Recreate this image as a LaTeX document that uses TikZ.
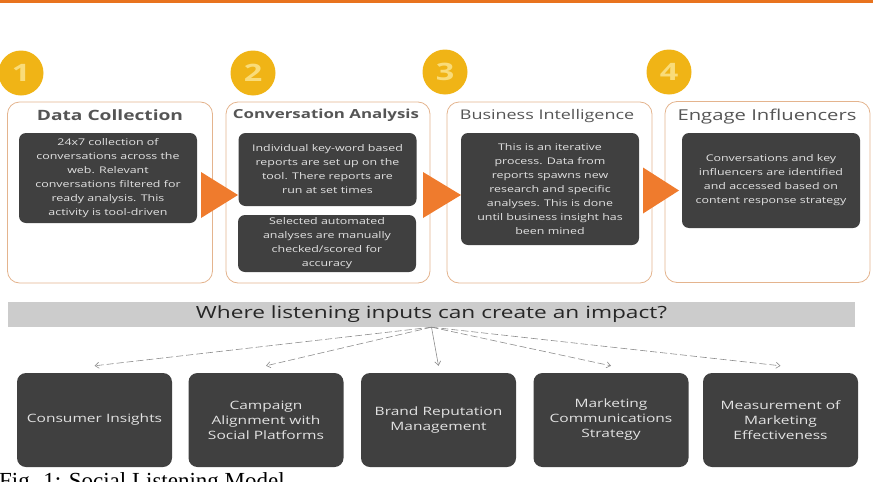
\documentclass[tikz,border=0pt]{standalone}
\usepackage{fontspec}
\setmainfont[FakeStretch=1.35]{Open Sans}
\newfontfamily\capfont{Liberation Serif}
\usetikzlibrary{arrows.meta,positioning}
\definecolor{topline}{HTML}{E8731E}
\definecolor{stepgold}{HTML}{F0B416}
\definecolor{stepnum}{HTML}{F9DC7A}
\definecolor{panelline}{HTML}{E4B48E}
\definecolor{darkbox}{HTML}{404040}
\definecolor{lighttext}{HTML}{E2E2E2}
\definecolor{bartone}{HTML}{CCCCCC}
\definecolor{chevron}{HTML}{EF7B2D}
\definecolor{titlegrey}{HTML}{555555}
\definecolor{linkgrey}{HTML}{8C8C8C}
\tikzset{
  panel/.style={draw=panelline, line width=0.8pt, fill=white, rounded corners=12pt,
                minimum width=205pt, minimum height=181pt},
  heading/.style={text=titlegrey, inner sep=0pt},
  darkcard/.style={fill=darkbox, rounded corners=7pt, text=lighttext, align=center,
                   inner sep=0pt, minimum width=178pt, font=\fontsize{9.2}{14}\selectfont},
  impact/.style={fill=darkbox, rounded corners=9pt, text=lighttext, align=center,
                 inner sep=0pt, minimum width=155pt, minimum height=94pt,
                 font=\fontsize{11.5}{15}\selectfont},
  link/.style={linkgrey, line width=0.6pt, -{Straight Barb[length=4pt,width=6pt]}},
}

\begin{document}
\begin{tikzpicture}[x=1pt, y=-1pt]
  \useasboundingbox (0,0) rectangle (873,482);
  \fill[topline] (0,0) rectangle (873,3);
  \foreach \i/\cx/\cy in {1/21/73, 2/253/73, 3/445/72, 4/669/72}
    \node[circle, fill=stepgold, minimum size=45pt, inner sep=0pt, text=stepnum,
          font=\fontsize{24}{24}\selectfont\bfseries] (n\i) at (\cx,\cy) {\i};
  \node[panel] (p1) at (110,192.5) {};
  \node[panel, minimum width=204pt] (p2) at (328,192.5) {};
  \node[panel] (p3) at (549.5,192.5) {};
  \node[panel] (p4) at (767.5,192) {};
  \node[heading, font=\fontsize{14.2}{15}\selectfont\bfseries] (t1) at (110,115) {Data Collection};
  \node[heading, font=\fontsize{12.5}{12}\selectfont\bfseries] (t2) at (326,115) {Conversation Analysis};
  \node[heading, font=\fontsize{13.3}{12}\selectfont] (t3) at (547,116) {Business Intelligence};
  \node[heading, font=\fontsize{15}{15}\selectfont] (t4) at (767,117) {Engage Influencers};
  \node[darkcard, minimum height=90pt] (c1) at (108,178) {24x7 collection of\\conversations across the\\web. Relevant\\conversations filtered for\\ready analysis. This\\activity is tool-driven};
  \node[darkcard, minimum height=73pt] (c2a) at (327.5,169.5) {Individual key-word based\\reports are set up on the\\tool. There reports are\\run at set times};
  \node[darkcard, minimum height=57pt] (c2b) at (327,243.5) {Selected automated\\analyses are manually\\checked/scored for\\accuracy};
  \node[darkcard, minimum height=112pt] (c3) at (550,189) {This is an iterative\\process. Data from\\reports spawns new\\research and specific\\analyses. This is done\\until business insight has\\been mined};
  \node[darkcard, minimum height=95pt] (c4) at (771,180.5) {Conversations and key\\influencers are identified\\and accessed based on\\content response strategy};
  \foreach \bx/\tx/\cy in {201/238/195, 423/461/195, 643/679/190.5}
    \fill[chevron] (\bx,\cy-23) -- (\tx,\cy) -- (\bx,\cy+23) -- cycle;
  \node[fill=bartone, minimum width=847pt, minimum height=25pt, inner sep=0pt,
        font=\fontsize{16.8}{16}\selectfont, text=black!85] (bar) at (431.5,314.5)
        {Where listening inputs can create an impact?};
  \foreach \k/\cx/\txt in {1/94.5/Consumer Insights,
                           2/266/Campaign\\Alignment with\\Social Platforms,
                           3/438.5/Brand Reputation\\Management,
                           4/611/Marketing\\Communications\\Strategy,
                           5/780.5/Measurement of\\Marketing\\Effectiveness}
    \node[impact] (b\k) at (\cx,420) {\txt};
  \foreach \k in {1,2,4,5}
    \draw[link, dash pattern=on 7pt off 3pt] (bar.south) -- ([yshift=7pt]b\k.north);
  \draw[link] (bar.south) -- ([yshift=7pt]b3.north);
  \node[anchor=base west, inner sep=0pt, font=\capfont\fontsize{23}{23}\selectfont]
        (cap) at (-1,488) {Fig. 1: Social Listening Model};
\end{tikzpicture}
\end{document}
